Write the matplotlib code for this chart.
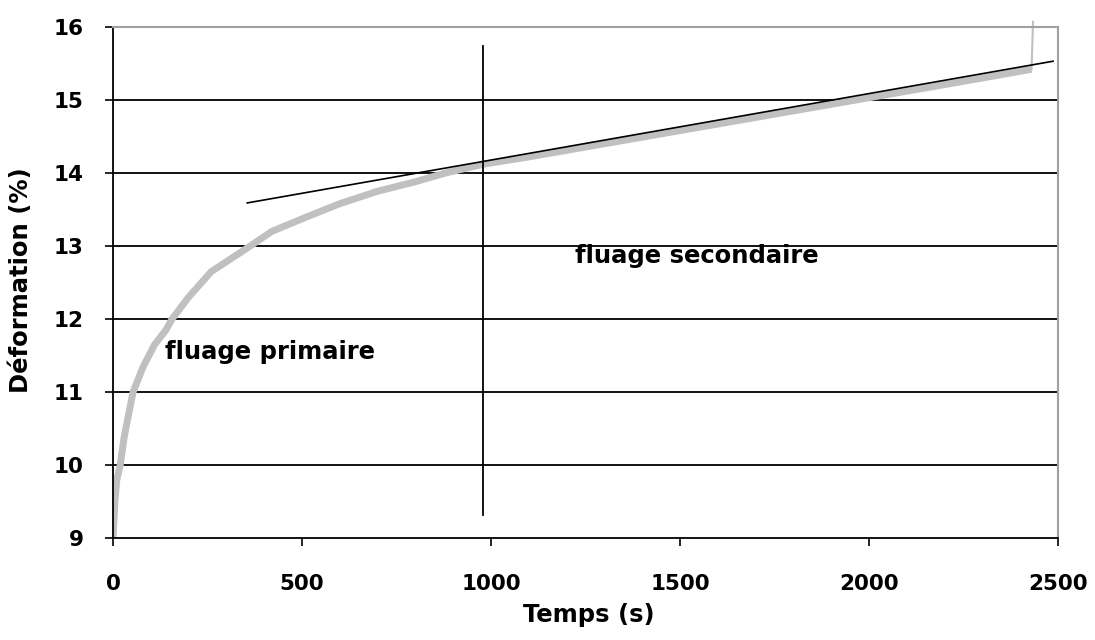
import matplotlib
matplotlib.use('Agg')
import matplotlib.pyplot as plt

plt.rcParams['font.family'] = ['DejaVu Sans']
plt.rcParams['font.weight'] = 'bold'

# creep curve
temps = [0, 5, 10, 19, 30, 53, 80, 110, 140, 156, 200, 260, 363, 420, 513,
         600, 700, 800, 880, 980, 1100, 1300, 1500, 1700, 1900, 2100, 2300, 2430]
deformation = [9.0, 9.5, 9.8, 10.0, 10.4, 11.0, 11.35, 11.65, 11.85, 12.0, 12.3, 12.65,
               13.0, 13.2, 13.4, 13.58, 13.75, 13.88, 14.0, 14.12, 14.22, 14.4, 14.58,
               14.76, 14.94, 15.12, 15.3, 15.42]
# rupture at the end
rupture_t = [2430, 2434]
rupture_y = [15.42, 16.07]

# tangent for the secondary creep
tangente_t = [355, 2487]
tangente_y = [13.59, 15.53]

# separation line between stages
separation_t = [978, 978]
separation_y = [9.32, 15.74]

xticks = [0, 500, 1000, 1500, 2000, 2500]
yticks = [9, 10, 11, 12, 13, 14, 15, 16]

fig = plt.figure(figsize=(10.95, 6.4), dpi=100)
ax = fig.add_axes([0.1032, 0.159, 0.863, 0.799])

for y in yticks[1:-1]:
    ax.axhline(y, color='black', lw=1.3, zorder=1)

ax.plot(temps, deformation, color='#c0c0c0', lw=5, solid_capstyle='butt', zorder=2)
ax.plot(rupture_t, rupture_y, color='#c0c0c0', lw=1.5, zorder=2, clip_on=False)
ax.plot(tangente_t, tangente_y, color='black', lw=1.2, zorder=3)
ax.plot(separation_t, separation_y, color='black', lw=1.3, zorder=3)

ax.text(138, 11.55, 'fluage primaire', fontsize=17.5, fontweight='bold', va='center')
ax.text(1222, 12.86, 'fluage secondaire', fontsize=17.5, fontweight='bold', va='center')

ax.set_xlim(0, 2500)
ax.set_ylim(9, 16)
ax.set_xticks(xticks)
ax.set_yticks(yticks)
ax.tick_params(axis='both', direction='out', length=6, width=1.2, labelsize=15.5)
ax.tick_params(axis='x', pad=20)
ax.tick_params(axis='y', pad=15)
for lab in ax.get_xticklabels() + ax.get_yticklabels():
    lab.set_fontweight('bold')

ax.spines['left'].set_linewidth(1.3)
ax.spines['bottom'].set_linewidth(1.3)
ax.spines['top'].set_color('#a0a0a0')
ax.spines['right'].set_color('#a0a0a0')
ax.spines['top'].set_linewidth(1.5)
ax.spines['right'].set_linewidth(1.5)

ax.set_xlabel('Temps (s)', fontsize=17.5, fontweight='bold')
ax.set_ylabel('Déformation (%)', fontsize=17.5, fontweight='bold')
ax.xaxis.set_label_coords(0.503, -0.127)
ax.yaxis.set_label_coords(-0.085, 0.505)

fig.savefig('out.png', dpi=100)
